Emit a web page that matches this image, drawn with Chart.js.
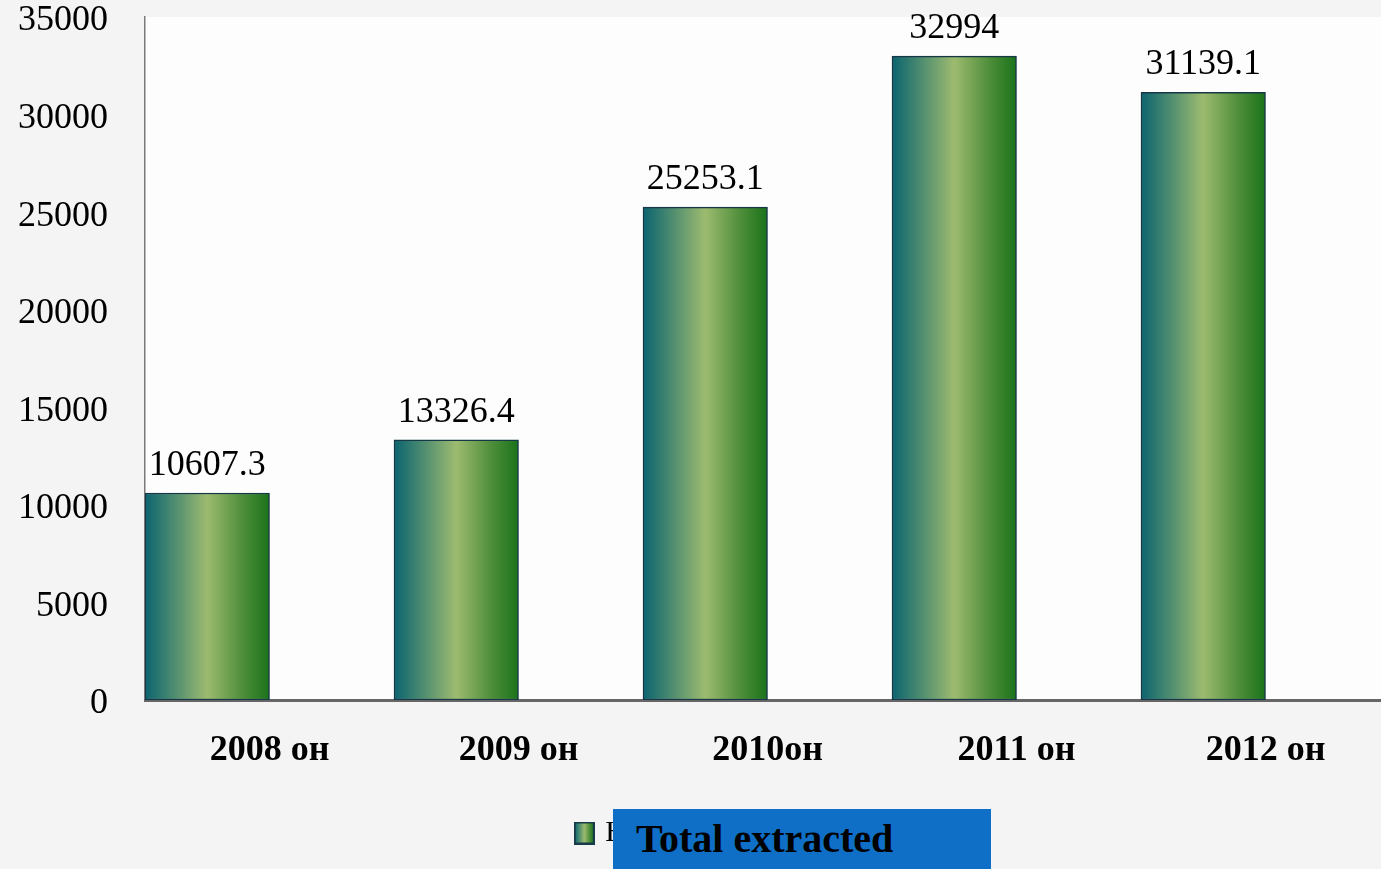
<!DOCTYPE html>
<html>
<head>
<meta charset="utf-8">
<script src="https://cdn.jsdelivr.net/npm/chart.js@4/dist/chart.umd.min.js"></script>
<style>
  html, body { margin: 0; padding: 0; overflow: hidden; background: #f4f4f4; width: 1381px; height: 869px; }
  #wrap { position: absolute; left: 0; top: 0; width: 1390px; height: 869px; }
  #overlay { position: absolute; left: 613px; top: 809px; width: 378px; height: 60px; background: #0f6fc6;
    font-family: 'Liberation Serif', serif; font-weight: bold; font-size: 40px; line-height: 60px; color: #000;
    padding-left: 23px; box-sizing: border-box; white-space: nowrap; }
</style>
</head>
<body>
<div id="wrap"><canvas id="c"></canvas></div>
<div id="overlay">Total extracted</div>
<script>
const categories = ["2008 он", "2009 он", "2010он", "2011 он", "2012 он"];
const extracted = [10607.3, 13326.4, 25253.1, 32994, 31139.1];
const emptySeries = [null, null, null, null, null];
const legendLabel = "Нийт олборлолт";
const yTicks = [0, 5000, 10000, 15000, 20000, 25000, 30000, 35000];

function makeGradient(ctx2d, x0, x1) {
  const g = ctx2d.createLinearGradient(x0, 0, x1, 0);
  g.addColorStop(0, '#0b6470');
  g.addColorStop(0.22, '#4a8a70');
  g.addColorStop(0.5, '#9dbb6f');
  g.addColorStop(0.78, '#4f8e3a');
  g.addColorStop(1, '#1a731a');
  return g;
}

// legend swatch as a small canvas
const sw = document.createElement('canvas');
sw.width = 21; sw.height = 23;
(function () {
  const c = sw.getContext('2d');
  c.fillStyle = makeGradient(c, 1, 20);
  c.fillRect(1, 1, 19, 21);
  c.strokeStyle = '#173b48';
  c.lineWidth = 2;
  c.strokeRect(1, 1, 19, 21);
})();

const bgPlugin = {
  id: 'bg',
  beforeDraw(chart) {
    const { ctx, chartArea: a } = chart;
    ctx.save();
    ctx.fillStyle = '#fdfdfd';
    ctx.fillRect(a.left, a.top, a.right - a.left, a.bottom - a.top);
    ctx.restore();
  }
};

const valueLabels = {
  id: 'valueLabels',
  afterDatasetsDraw(chart) {
    const { ctx } = chart;
    const meta = chart.getDatasetMeta(0);
    ctx.save();
    ctx.font = "36px 'Liberation Serif', serif";
    ctx.fillStyle = '#000';
    ctx.textAlign = 'center';
    ctx.textBaseline = 'alphabetic';
    meta.data.forEach((bar, i) => {
      ctx.fillText(String(extracted[i]), bar.x, bar.y - 18);
    });
    ctx.restore();
  }
};

new Chart(document.getElementById('c'), {
  type: 'bar',
  data: {
    labels: categories,
    datasets: [
      {
        label: legendLabel,
        data: extracted,
        backgroundColor: (c) => {
          const chart = c.chart;
          const a = chart.chartArea;
          if (!a || c.dataIndex === undefined) return '#5a9a5a';
          const xs = chart.scales.x;
          const cw = (a.right - a.left) / categories.length;
          const cx = xs.getPixelForValue(c.dataIndex);
          return makeGradient(chart.ctx, cx - cw / 2, cx);
        },
        borderColor: '#163846',
        borderWidth: 1.5,
        borderSkipped: false,
        categoryPercentage: 1,
        barPercentage: 1
      },
      {
        label: '',
        data: emptySeries,
        backgroundColor: 'rgba(0,0,0,0)',
        categoryPercentage: 1,
        barPercentage: 1
      }
    ]
  },
  options: {
    responsive: true,
    maintainAspectRatio: false,
    animation: false,
    layout: { padding: { top: 17, left: 0, right: 0, bottom: 11 } },
    scales: {
      y: {
        min: 0, max: 35000,
        afterBuildTicks: (s) => { s.ticks = yTicks.map(v => ({ value: v })); },
        afterFit: (s) => { s.width = 145; s.paddingTop = 0; s.paddingBottom = 0; },
        grid: { display: false, drawTicks: false },
        border: { display: true, color: '#7a7a7a', width: 1.5 },
        ticks: {
          padding: 37,
          labelOffset: 4,
          color: '#000',
          font: { family: "'Liberation Serif', serif", size: 36, lineHeight: 1 },
          callback: (v) => String(v)
        }
      },
      x: {
        afterFit: (s) => { s.height = 108; },
        grid: { display: false, drawTicks: false },
        border: { display: true, color: '#666666', width: 3 },
        ticks: {
          padding: 29,
          color: '#000',
          maxRotation: 0,
          font: { family: "'Liberation Serif', serif", size: 36, weight: 'bold', lineHeight: 1.2 }
        }
      }
    },
    plugins: {
      tooltip: { enabled: false },
      legend: {
        position: 'bottom',
        labels: {
          usePointStyle: true,
          pointStyleWidth: 12,
          boxWidth: 12,
          boxHeight: 22,
          padding: 10,
          color: '#000',
          font: { family: "'Liberation Serif', serif", size: 30 },
          generateLabels: (chart) => [{
            text: legendLabel,
            pointStyle: sw,
            fillStyle: '#5a9a5a',
            strokeStyle: '#173b48',
            lineWidth: 0,
            hidden: false,
            datasetIndex: 0,
            fontColor: '#000'
          }]
        }
      }
    }
  },
  plugins: [bgPlugin, valueLabels]
});
</script>
</body>
</html>
